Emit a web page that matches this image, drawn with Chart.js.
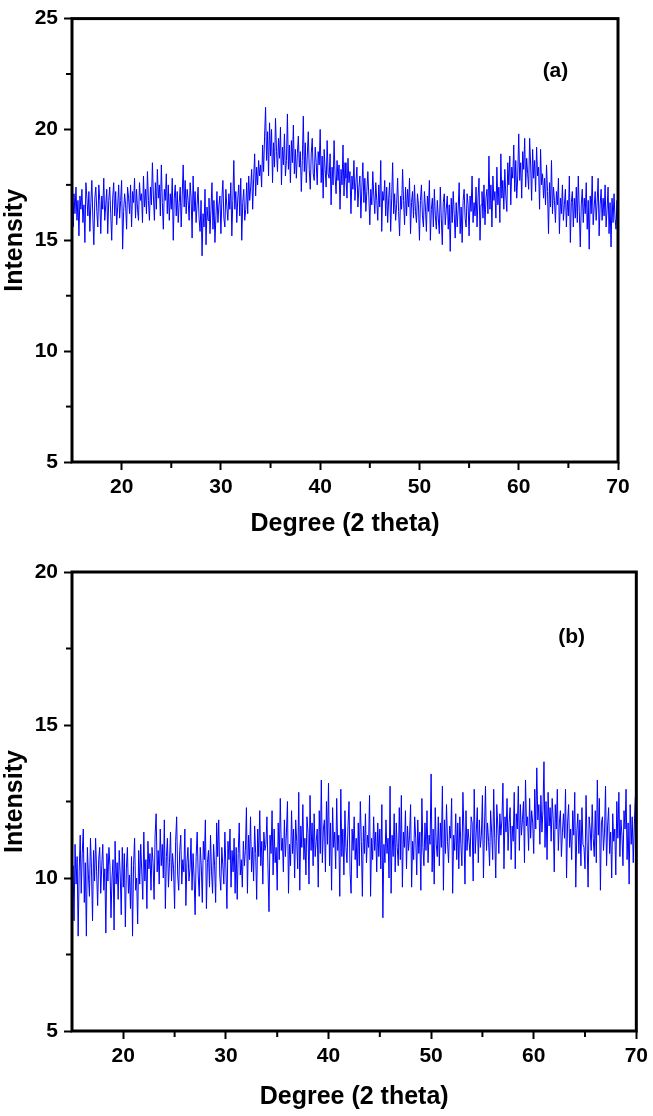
<!DOCTYPE html>
<html>
<head>
<meta charset="utf-8">
<script src="https://cdn.jsdelivr.net/npm/chart.js@4.4.0/dist/chart.umd.min.js"></script>
<style>
  html, body { margin: 0; padding: 0; background: #fff; }
  #wrap { position: relative; width: 653px; height: 1116px; overflow: hidden; }
  canvas { position: absolute; left: 0; }
  #panelA { top: 0; }
  #panelB { top: 545px; }
</style>
</head>
<body>
<div id="wrap">
  <canvas id="panelA" width="653" height="543"></canvas>
  <canvas id="panelB" width="653" height="571"></canvas>
</div>
<script>
// scan grid (degrees 2 theta)
const angleStart = 15
const angleStep = 0.1

// tick labels
const xLabels = [20, 30, 40, 50, 60, 70]
const yLabelsA = [5, 10, 15, 20, 25]
const yLabelsB = [5, 10, 15, 20]

// intensity, 15 -> 70 deg, one row = 1 deg
const intensityA = [
  16.3, 15.6, 17.1, 16.2, 17.4, 15.9, 16.8, 15.2, 17.0, 16.4,
  17.3, 15.8, 16.6, 14.9, 17.6, 16.9, 16.1, 17.2, 15.4, 16.7,
  17.7, 16.0, 14.8, 16.9, 17.4, 16.3, 15.6, 17.5, 16.8, 15.3,
  17.0, 16.4, 17.8, 15.9, 16.6, 17.3, 15.3, 16.8, 17.4, 16.2,
  15.0, 16.9, 17.6, 16.1, 17.2, 15.7, 16.5, 17.5, 16.0, 16.8,
  17.7, 14.6, 16.3, 17.1, 16.6, 15.5, 17.4, 16.9, 16.2, 17.5,
  15.6, 17.2, 16.7, 17.8, 16.0, 17.3, 16.4, 15.9, 17.6, 16.8,
  17.1, 15.8, 17.9, 16.5, 17.3, 16.2, 18.1, 16.8, 15.9, 17.4,
  16.6, 18.5, 17.0, 15.9, 17.6, 16.4, 18.2, 16.9, 17.5, 16.1,
  18.4, 16.7, 15.5, 17.3, 16.8, 18.0, 16.2, 17.5, 15.9, 17.1,
  16.4, 17.8, 15.0, 16.9, 17.5, 16.1, 17.2, 15.8, 16.7, 17.4,
  15.6, 17.0, 18.4, 16.5, 17.7, 16.2, 17.3, 16.8, 15.9, 17.6,
  16.9, 15.1, 17.9, 16.3, 17.2, 15.8, 16.6, 17.4, 16.0, 15.4,
  16.8, 14.3, 16.2, 15.6, 17.3, 14.8, 16.5, 15.9, 16.9, 15.3,
  16.4, 17.6, 15.5, 16.8, 14.9, 16.1, 17.2, 15.8, 16.6, 17.0,
  15.3, 16.9, 17.7, 16.0, 15.6, 17.3, 16.5, 15.9, 17.1, 16.4,
  17.6, 15.2, 16.8, 18.6, 16.4, 17.2, 15.8, 16.9, 17.5, 16.1,
  17.8, 15.0, 16.7, 17.3, 15.9, 16.4, 17.6, 16.2, 17.9, 16.8,
  17.4, 18.2, 16.4, 17.8, 18.9, 17.0, 18.3, 17.5, 18.6, 17.9,
  18.4, 17.4, 19.3, 18.1, 19.7, 21.0, 18.6, 19.9, 17.9, 20.3,
  18.8, 20.0, 17.6, 19.4, 18.3, 20.5, 19.0, 18.1, 19.6, 18.7,
  20.1, 17.5, 19.2, 18.4, 19.8, 17.9, 18.6, 20.7, 18.2, 19.3,
  17.6, 19.5, 18.5, 20.2, 18.0, 19.1, 17.8, 18.9, 19.7, 18.3,
  19.0, 17.2, 18.6, 20.6, 18.1, 19.4, 17.6, 18.8, 19.9, 18.2,
  17.3, 18.9, 19.6, 18.0, 17.7, 19.2, 18.5, 17.5, 19.0, 18.4,
  20.0, 17.6, 18.8, 16.9, 19.1, 18.2, 17.4, 19.5, 18.0, 17.8,
  18.9, 16.6, 18.3, 17.5, 19.5, 17.9, 17.1, 18.6, 17.7, 18.4,
  16.4, 18.2, 17.5, 19.3, 17.0, 18.5, 17.8, 16.9, 18.7, 17.6,
  18.1, 16.2, 17.9, 17.3, 18.6, 16.8, 17.6, 18.3, 16.5, 17.4,
  17.9, 16.0, 17.4, 18.5, 16.7, 17.8, 16.3, 17.2, 18.1, 17.0,
  15.7, 17.3, 16.6, 18.1, 17.0, 16.2, 17.6, 16.8, 15.9, 17.5,
  16.5, 18.6, 15.4, 17.2, 16.8, 17.7, 16.1, 17.4, 15.8, 16.9,
  17.6, 15.4, 16.9, 18.5, 16.2, 17.1, 15.9, 16.6, 17.8, 16.3,
  15.2, 17.0, 16.4, 18.2, 16.8, 15.7, 17.4, 16.1, 17.3, 16.5,
  17.8, 15.3, 16.7, 17.2, 16.0, 17.5, 16.3, 15.8, 17.1, 16.6,
  15.0, 16.8, 17.5, 16.1, 15.6, 17.2, 16.5, 15.4, 17.0, 16.3,
  17.7, 15.0, 16.4, 16.9, 15.6, 17.3, 16.1, 15.5, 16.8, 16.0,
  15.3, 17.4, 16.0, 14.8, 16.7, 17.1, 15.7, 16.4, 17.0, 15.5,
  16.6, 14.5, 16.9, 15.8, 17.2, 16.2, 15.1, 16.7, 15.6, 16.4,
  17.6, 15.3, 16.5, 14.9, 16.8, 17.3, 16.0, 15.6, 17.1, 16.6,
  15.2, 17.0, 16.3, 17.9, 15.8, 16.7, 16.1, 17.4, 15.6, 16.9,
  17.8, 15.0, 16.6, 17.2, 16.0, 17.5, 15.7, 16.9, 17.3, 16.2,
  18.8, 16.4, 17.5, 15.6, 17.9, 16.8, 17.2, 16.0, 18.3, 16.6,
  17.4, 15.8, 18.9, 16.9, 17.7, 16.4, 18.2, 17.0, 16.3, 18.5,
  17.5, 18.8, 16.6, 18.3, 17.8, 19.3, 17.2, 18.6, 16.9, 17.9,
  19.8, 17.7, 18.5, 16.9, 19.0, 18.2, 19.6, 17.4, 18.7, 18.0,
  17.3, 19.6, 18.4, 16.8, 19.1, 17.8, 18.6, 17.2, 19.2, 17.9,
  18.3, 16.4, 19.1, 17.5, 18.0, 16.9, 17.8, 16.6, 18.4, 17.2,
  15.3, 17.6, 16.5, 18.6, 16.2, 17.4, 16.8, 15.8, 17.2, 16.6,
  17.8, 15.3, 16.9, 16.2, 17.5, 15.9, 16.6, 17.3, 15.6, 16.8,
  16.1, 17.9, 14.9, 16.7, 17.2, 15.6, 16.9, 16.0, 17.4, 15.8,
  17.9, 16.3, 14.7, 16.6, 17.3, 15.8, 16.9, 16.2, 17.6, 15.5,
  16.8, 14.6, 17.0, 16.2, 17.9, 15.7, 16.5, 17.2, 15.9, 16.7,
  17.8, 15.2, 16.6, 17.3, 15.9, 16.9, 16.1, 17.5, 15.6, 16.4,
  17.4, 15.3, 16.7, 14.7, 16.9, 15.8, 17.1, 16.0, 15.5, 16.8,
  14.4
]

// intensity
const intensityB = [
  9.3, 10.4, 8.6, 11.1, 9.8, 10.7, 8.1, 10.2, 11.4, 9.5,
  10.8, 11.6, 9.2, 10.5, 8.1, 11.0, 10.1, 9.4, 11.3, 10.3,
  8.6, 10.9, 9.9, 11.3, 10.2, 9.1, 10.6, 11.0, 9.5, 10.4,
  11.1, 9.6, 10.3, 8.2, 10.8, 9.9, 11.0, 10.4, 8.7, 10.0,
  10.6, 8.3, 11.2, 9.8, 10.5, 9.3, 10.9, 10.1, 8.8, 11.0,
  9.7, 10.8, 8.4, 10.3, 11.0, 9.5, 10.1, 9.0, 10.7, 8.1,
  10.4, 11.3, 9.6, 10.0, 8.5, 10.9, 9.8, 11.1, 10.2, 9.3,
  11.5, 9.9, 10.6, 9.0, 11.2, 10.3, 10.8, 9.6, 11.0, 10.5,
  9.3, 11.4, 12.1, 10.2, 10.9, 9.8, 11.6, 10.4, 11.1, 10.0,
  11.9, 9.0, 10.7, 11.3, 9.7, 10.5, 11.5, 9.9, 10.8, 10.3,
  9.0, 11.2, 12.0, 10.1, 9.6, 10.9, 11.4, 9.8, 10.6, 10.2,
  11.6, 9.1, 10.5, 11.0, 9.9, 10.3, 11.3, 9.6, 10.8, 10.0,
  8.8, 10.7, 11.5, 10.1, 9.4, 11.0, 10.4, 9.2, 11.2, 10.6,
  11.9, 9.0, 10.5, 10.9, 9.7, 11.4, 10.2, 9.5, 11.1, 10.4,
  9.2, 11.8, 10.7, 11.9, 10.1, 9.6, 11.0, 10.4, 9.8, 11.5,
  10.3, 9.0, 11.2, 10.6, 11.6, 9.7, 10.9, 10.2, 11.3, 9.5,
  11.0, 9.3, 10.8, 11.8, 10.1, 10.6, 9.7, 11.2, 10.4, 10.9,
  12.3, 9.5, 11.4, 10.6, 12.0, 10.2, 11.0, 9.9, 11.7, 10.8,
  9.3, 11.6, 10.7, 12.2, 10.4, 11.2, 9.8, 11.5, 10.9, 11.1,
  12.0, 10.3, 8.9, 11.4, 10.8, 12.2, 10.1, 11.6, 10.5, 11.0,
  9.6, 11.8, 10.6, 12.6, 10.9, 11.3, 10.2, 11.9, 10.7, 11.5,
  12.5, 9.5, 11.1, 10.4, 12.2, 10.8, 11.6, 10.0, 11.9, 11.2,
  10.3, 12.8, 9.6, 11.7, 11.0, 12.4, 10.6, 11.3, 10.1, 12.0,
  11.5, 9.8, 12.7, 10.9, 11.8, 10.4, 12.1, 10.7, 11.2, 11.6,
  9.7, 12.2, 10.8, 13.2, 10.5, 11.6, 11.9, 10.2, 12.5, 11.1,
  13.1, 10.4, 11.8, 9.6, 12.3, 11.0, 11.5, 10.3, 12.6, 10.9,
  11.4, 9.4, 12.9, 10.7, 11.6, 10.1, 12.2, 11.0, 10.5, 11.7,
  12.5, 10.2, 9.5, 11.6, 10.9, 12.0, 10.6, 11.3, 10.0, 11.8,
  10.4, 12.5, 11.2, 9.4, 11.7, 10.8, 12.1, 10.5, 11.4, 11.0,
  12.7, 9.4, 11.3, 10.6, 12.0, 10.9, 11.5, 10.2, 11.8, 10.7,
  11.6, 10.3, 12.4, 8.7, 11.1, 10.5, 11.9, 10.8, 11.3, 10.0,
  13.0, 9.5, 11.4, 10.7, 12.1, 10.2, 11.8, 11.0, 10.4, 12.3,
  10.6, 12.7, 9.7, 11.5, 11.0, 12.2, 10.3, 11.7, 10.9, 11.4,
  12.4, 9.7, 11.2, 10.6, 12.0, 11.3, 10.1, 11.9, 10.8, 11.5,
  9.6, 12.6, 11.0, 10.4, 11.8, 10.9, 12.2, 10.5, 11.4, 11.1,
  13.4, 10.2, 11.6, 9.8, 12.3, 11.1, 10.7, 12.0, 10.4, 11.8,
  11.0, 13.0, 9.6, 11.9, 10.8, 12.4, 11.2, 10.5, 11.7, 11.3,
  12.6, 9.5, 11.4, 10.9, 12.1, 10.6, 11.8, 10.3, 12.0, 11.1,
  10.4, 12.8, 11.5, 9.8, 12.2, 10.9, 11.6, 11.2, 10.7, 12.0,
  11.8, 9.9, 12.9, 10.8, 11.5, 12.3, 10.5, 11.9, 11.0, 11.4,
  12.7, 10.0, 11.6, 13.0, 10.9, 11.8, 11.2, 10.4, 12.2, 11.5,
  10.6, 12.9, 11.3, 10.0, 12.4, 11.7, 10.8, 12.1, 11.4, 11.9,
  13.1, 10.3, 12.0, 11.5, 12.6, 10.9, 11.8, 12.3, 10.6, 11.7,
  11.2, 12.8, 10.3, 12.1, 11.6, 13.0, 10.9, 12.4, 11.4, 11.9,
  12.5, 10.5, 13.2, 11.7, 12.0, 10.9, 12.6, 11.3, 12.2, 11.8,
  10.8, 12.9, 11.6, 13.6, 11.9, 12.4, 11.1, 12.7, 11.5, 12.2,
  13.8, 11.0, 12.5, 10.6, 12.8, 11.7, 12.3, 11.2, 12.6, 11.9,
  10.2, 12.4, 11.6, 12.9, 10.9, 11.8, 12.2, 10.7, 11.5, 12.1,
  11.3, 12.9, 10.0, 11.8, 12.4, 11.0, 11.6, 10.6, 12.2, 11.4,
  12.8, 9.7, 11.5, 12.1, 10.8, 11.9, 10.4, 12.3, 11.1, 11.0,
  10.3, 12.7, 11.2, 9.7, 12.0, 11.6, 10.9, 12.4, 11.3, 10.7,
  12.2, 10.5, 13.2, 11.4, 12.6, 9.6, 11.8, 12.0, 10.9, 11.5,
  13.0, 10.4, 11.7, 12.3, 10.8, 11.5, 10.0, 12.1, 11.2, 11.6,
  10.1, 12.5, 11.3, 12.8, 10.7, 11.9, 11.4, 10.4, 12.2, 11.6,
  12.9, 10.6, 11.8, 9.8, 12.4, 11.1, 12.0, 10.5, 11.7, 12.6,
  13.0
]

const fontFamily = '"Liberation Sans", Arial, sans-serif'

// box round the plot, short minor ticks and the (a)/(b) tag
const framePlugin = {
  id: 'frame',
  afterDraw(chart, args, opts) {
    const { ctx, chartArea: a, scales } = chart
    ctx.save()
    ctx.strokeStyle = '#000'
    ctx.lineWidth = 3
    ctx.strokeRect(a.left, a.top, a.right - a.left, a.bottom - a.top)

    ctx.lineWidth = 2
    scales.x.ticks.forEach(t => {
      if (xLabels.includes(t.value) || t.value === scales.x.min) return
      const px = scales.x.getPixelForValue(t.value)
      ctx.beginPath(); ctx.moveTo(px, a.bottom); ctx.lineTo(px, a.bottom + 6); ctx.stroke()
    })
    scales.y.ticks.forEach(t => {
      if (opts.yLabels.includes(t.value)) return
      const py = scales.y.getPixelForValue(t.value)
      ctx.beginPath(); ctx.moveTo(a.left, py); ctx.lineTo(a.left - 6, py); ctx.stroke()
    })

    ctx.fillStyle = '#000'
    ctx.font = 'bold 21px ' + fontFamily
    ctx.textAlign = 'center'
    ctx.textBaseline = 'middle'
    ctx.fillText(opts.tag, scales.x.getPixelForValue(opts.tagX), scales.y.getPixelForValue(opts.tagY))
    ctx.restore()
  }
}

function buildPanel(canvasId, values, yMin, yMax, yLabels, tag, tagX, tagY, pad, xAxisHeight) {
  const points = values.map((v, i) => ({ x: angleStart + i * angleStep, y: v }))

  return new Chart(document.getElementById(canvasId), {
    type: 'line',
    data: {
      datasets: [{
        data: points,
        borderColor: '#0000ff',
        borderWidth: 1,
        pointRadius: 0,
        tension: 0,
        fill: false
      }]
    },
    options: {
      responsive: false,
      animation: false,
      layout: { padding: pad },
      plugins: {
        legend: { display: false },
        tooltip: { enabled: false },
        frame: { yLabels: yLabels, tag: tag, tagX: tagX, tagY: tagY }
      },
      scales: {
        x: {
          type: 'linear',
          min: 15,
          max: 70,
          afterFit: s => { s.height = xAxisHeight },
          border: { display: false },
          grid: {
            drawOnChartArea: false,
            drawTicks: true,
            tickLength: 8,
            tickWidth: 2,
            tickColor: c => xLabels.includes(c.tick.value) ? '#000' : 'rgba(0,0,0,0)'
          },
          ticks: {
            stepSize: 5,
            autoSkip: false,
            maxRotation: 0,
            padding: 5,
            color: '#000',
            font: { family: fontFamily, size: 21, weight: 'bold' },
            callback: v => xLabels.includes(v) ? String(v) : ''
          },
          title: {
            display: true,
            text: 'Degree (2 theta)',
            color: '#000',
            padding: { top: 4, bottom: 4 },
            font: { family: fontFamily, size: 25, weight: 'bold' }
          }
        },
        y: {
          min: yMin,
          max: yMax,
          afterFit: s => { s.width = 72 },
          border: { display: false },
          grid: {
            drawOnChartArea: false,
            drawTicks: true,
            tickLength: 8,
            tickWidth: 2,
            tickColor: c => yLabels.includes(c.tick.value) ? '#000' : 'rgba(0,0,0,0)'
          },
          ticks: {
            stepSize: 2.5,
            autoSkip: false,
            padding: 6,
            color: '#000',
            font: { family: fontFamily, size: 21, weight: 'bold' },
            callback: v => yLabels.includes(v) ? String(v) : ''
          },
          title: {
            display: true,
            text: 'Intensity',
            color: '#000',
            padding: { top: 0, bottom: 0 },
            font: { family: fontFamily, size: 25, weight: 'bold' }
          }
        }
      }
    },
    plugins: [framePlugin]
  })
}

buildPanel('panelA', intensityA, 5, 25, yLabelsA, '(a)', 63.7, 22.64,
  { left: 0, top: 13, right: 35, bottom: 0 }, 81)
buildPanel('panelB', intensityB, 5, 20, yLabelsB, '(b)', 63.7, 17.88,
  { left: 0, top: 27, right: 14, bottom: 0 }, 85)
</script>
</body>
</html>
